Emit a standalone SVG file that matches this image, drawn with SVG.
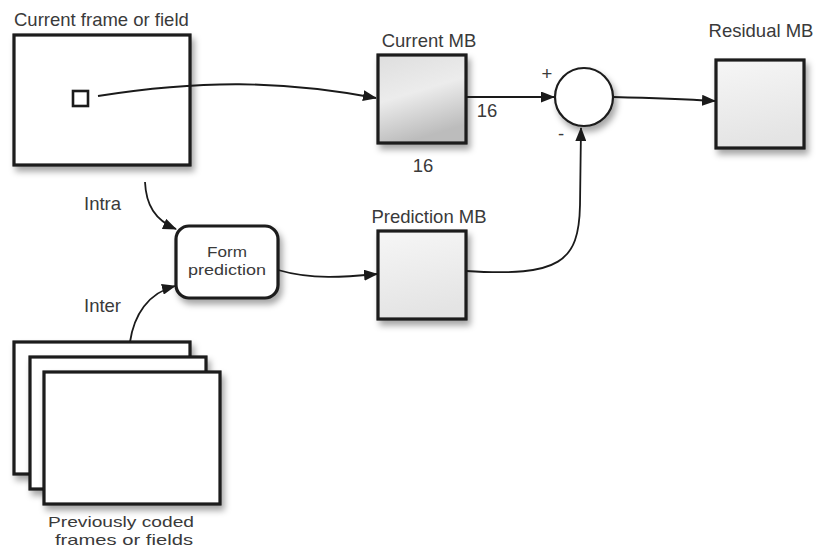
<svg xmlns="http://www.w3.org/2000/svg" width="816" height="548" viewBox="0 0 816 548">
<style>
text{font-family:"Liberation Sans",Arial,sans-serif;font-size:18.5px;fill:#3a3a3a}
.box{fill:#fff;stroke:#1a1a1a;stroke-width:3.2}
.mb{fill:url(#g2);stroke:#1a1a1a;stroke-width:3.2}
.c{fill:none;stroke:#1a1a1a;stroke-width:1.8}
.arr{marker-end:url(#ah)}
.two{font-size:15px}
</style>
<defs>
<filter id="sh" x="-20%" y="-20%" width="150%" height="150%"><feDropShadow dx="3" dy="5" stdDeviation="3" flood-color="#000" flood-opacity="0.35"/></filter>
<linearGradient id="g" x1="0" y1="0" x2="0.3" y2="1"><stop offset="0" stop-color="#dedede"/><stop offset="0.5" stop-color="#ececec"/><stop offset="1" stop-color="#bcbcbc"/></linearGradient>
<linearGradient id="g2" x1="0" y1="0" x2="0.2" y2="1"><stop offset="0" stop-color="#f6f6f6"/><stop offset="1" stop-color="#e4e4e4"/></linearGradient>
<marker id="ah" markerWidth="14" markerHeight="11" refX="13" refY="5.5" orient="auto" markerUnits="userSpaceOnUse"><path d="M0,0 L14,5.5 L0,11 Z" fill="#1a1a1a"/></marker>
</defs>
<g id="current-frame">
<text x="14" y="26">Current frame or field</text>
<rect class="box" x="14" y="35" width="176" height="130" filter="url(#sh)"/>
<rect x="73" y="91" width="15" height="15" fill="#fff" stroke="#1a1a1a" stroke-width="2.6"/>
</g>
<g id="current-mb">
<text x="429" y="47" text-anchor="middle">Current MB</text>
<rect x="378" y="55" width="88" height="88" fill="url(#g)" stroke="#1a1a1a" stroke-width="3.2" filter="url(#sh)"/>
<text x="487" y="117" text-anchor="middle">16</text>
<text x="423" y="172" text-anchor="middle">16</text>
</g>
<g id="sum">
<circle cx="584" cy="97" r="29" fill="#fff" stroke="#1a1a1a" stroke-width="2.2" filter="url(#sh)"/>
<text x="547" y="80" text-anchor="middle">+</text>
<text x="561" y="140" text-anchor="middle">-</text>
</g>
<g id="residual-mb">
<text x="761" y="37" text-anchor="middle">Residual MB</text>
<rect class="mb" x="716" y="60" width="88" height="88" filter="url(#sh)"/>
</g>
<g id="form-prediction">
<rect class="box" x="176" y="226" width="102" height="72" rx="13" filter="url(#sh)" stroke-width="2.4"/>
<text class="two" x="207" y="257" font-size="14.5" textLength="40" lengthAdjust="spacingAndGlyphs">Form</text>
<text class="two" x="188" y="275" font-size="14.5" textLength="78" lengthAdjust="spacingAndGlyphs">prediction</text>
</g>
<g id="prediction-mb">
<text x="429" y="223" text-anchor="middle">Prediction MB</text>
<rect class="mb" x="378" y="231" width="88" height="88" filter="url(#sh)"/>
</g>
<g id="previous-frames">
<rect class="box" x="14" y="342" width="176" height="132" filter="url(#sh)"/>
<rect class="box" x="30" y="357" width="176" height="132" filter="url(#sh)"/>
<rect class="box" x="44" y="372" width="176" height="132" filter="url(#sh)"/>
<text class="two" x="48" y="527" textLength="146" lengthAdjust="spacingAndGlyphs">Previously coded</text>
<text class="two" x="55" y="545" textLength="138" lengthAdjust="spacingAndGlyphs">frames or fields</text>
</g>
<g id="labels">
<text x="84" y="210">Intra</text>
<text x="84" y="312">Inter</text>
</g>
<g id="connectors">
<path class="c arr" d="M98,96 C200,80 280,80 376,98"/>
<path class="c arr" d="M466,97 L554,97"/>
<path class="c arr" d="M613,97 C650,98 680,99 715,101"/>
<path class="c arr" d="M145,182 C146,205 155,220 176,229"/>
<path class="c arr" d="M130,342 C134,315 148,293 175,286"/>
<path class="c arr" d="M278,270 C312,280 345,277 377,274"/>
<path class="c arr" d="M466,271 C560,277 579,262 580,205 L581,128"/>
</g>
</svg>
